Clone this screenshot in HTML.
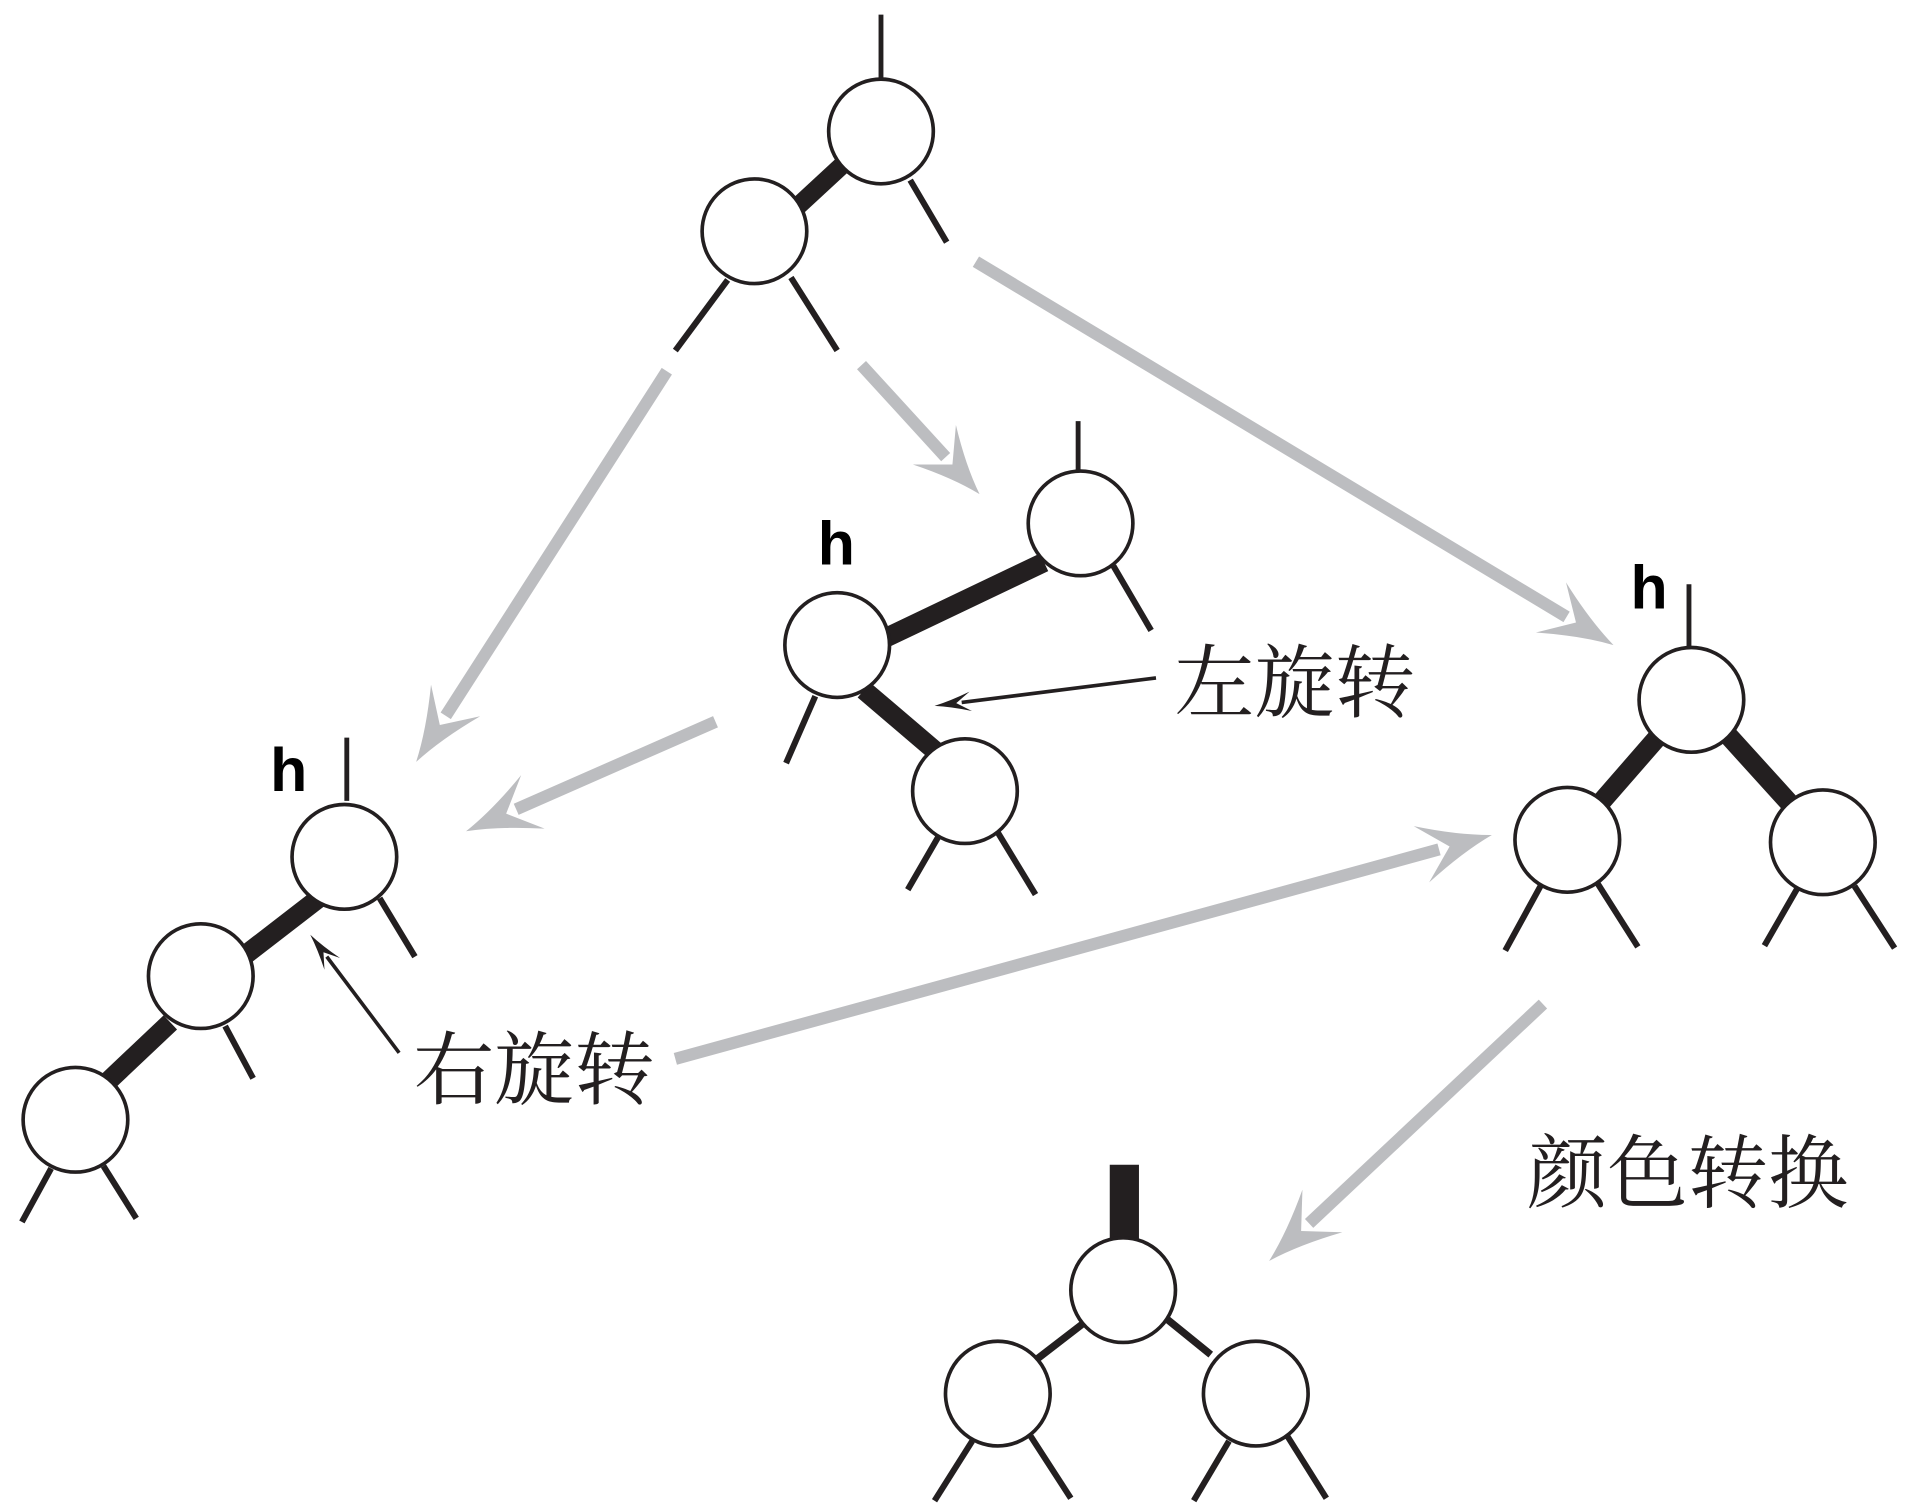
<!DOCTYPE html>
<html><head><meta charset="utf-8">
<style>
html,body{margin:0;padding:0;background:#fff;}
svg{display:block;}
text{font-family:"Liberation Serif","Noto Serif CJK SC",serif;}
.h{font-family:"Liberation Sans",sans-serif;font-weight:bold;}
</style></head>
<body>
<svg id="s" width="1908" height="1508" viewBox="0 0 1568 1239" preserveAspectRatio="none" xmlns="http://www.w3.org/2000/svg">
<g stroke="#231f20" fill="none" stroke-linecap="butt">
<line x1="724" y1="12" x2="724" y2="65" stroke-width="4"/>
<line x1="694" y1="134" x2="655" y2="170" stroke-width="15"/>
<line x1="748" y1="148" x2="778" y2="199" stroke-width="5"/>
<line x1="598" y1="230" x2="555" y2="288" stroke-width="5"/>
<line x1="650" y1="228" x2="688" y2="288" stroke-width="5"/>
<line x1="886" y1="346" x2="886" y2="386" stroke-width="4"/>
<line x1="858" y1="462" x2="728" y2="524" stroke-width="16"/>
<line x1="710" y1="567" x2="778" y2="625" stroke-width="16"/>
<line x1="915" y1="465" x2="946" y2="518" stroke-width="5"/>
<line x1="670" y1="572" x2="646" y2="627" stroke-width="5"/>
<line x1="772" y1="686" x2="746" y2="731" stroke-width="5"/>
<line x1="820" y1="684" x2="851" y2="735" stroke-width="5"/>
<line x1="285" y1="606" x2="285" y2="658" stroke-width="4"/>
<line x1="262" y1="738" x2="192" y2="792" stroke-width="16"/>
<line x1="140" y1="840" x2="85" y2="892" stroke-width="16"/>
<line x1="312" y1="738" x2="341" y2="786" stroke-width="5"/>
<line x1="185" y1="843" x2="208" y2="886" stroke-width="5"/>
<line x1="42" y1="960" x2="18" y2="1004" stroke-width="5"/>
<line x1="85" y1="958" x2="112" y2="1001" stroke-width="5"/>
<line x1="1388" y1="480" x2="1388" y2="532" stroke-width="4"/>
<line x1="1362" y1="606" x2="1308" y2="668" stroke-width="16"/>
<line x1="1420" y1="604" x2="1478" y2="668" stroke-width="16"/>
<line x1="1266" y1="728" x2="1237" y2="781" stroke-width="5"/>
<line x1="1313" y1="726" x2="1346" y2="778" stroke-width="5"/>
<line x1="1477" y1="730" x2="1450" y2="777" stroke-width="5"/>
<line x1="1524" y1="728" x2="1557" y2="779" stroke-width="5"/>
<line x1="924" y1="957" x2="924" y2="1020" stroke-width="24"/>
<line x1="892" y1="1086" x2="853" y2="1116" stroke-width="6"/>
<line x1="958" y1="1083" x2="995" y2="1113" stroke-width="6"/>
<line x1="799" y1="1184" x2="768" y2="1233" stroke-width="5"/>
<line x1="847" y1="1180" x2="880" y2="1231" stroke-width="5"/>
<line x1="1010" y1="1184" x2="981" y2="1233" stroke-width="5"/>
<line x1="1058" y1="1180" x2="1090" y2="1231" stroke-width="5"/>
</g>
<g stroke="#231f20" stroke-width="3" fill="#fff">
<circle cx="724" cy="108" r="43"/>
<circle cx="620" cy="190" r="43"/>
<circle cx="888" cy="430" r="43"/>
<circle cx="688" cy="530" r="43"/>
<circle cx="793" cy="650" r="43"/>
<circle cx="283" cy="704" r="43"/>
<circle cx="165" cy="802" r="43"/>
<circle cx="62" cy="920" r="43"/>
<circle cx="1390" cy="575" r="43"/>
<circle cx="1288" cy="690" r="43"/>
<circle cx="1498" cy="692" r="43"/>
<circle cx="923" cy="1060" r="43"/>
<circle cx="820" cy="1145" r="43"/>
<circle cx="1032" cy="1145" r="43"/>
</g>
<g id="arrows"></g>
<text class="h" x="672" y="464" font-size="50">h</text>
<text class="h" x="222" y="650" font-size="50">h</text>
<text class="h" x="1340" y="500" font-size="50">h</text>
<text x="965" y="584" font-size="66" fill="#231f20">左旋转</text>
<text x="340" y="902" font-size="66" fill="#231f20">右旋转</text>
<text x="1255" y="987" font-size="66" fill="#231f20">颜色转换</text>
</svg>
<script>
var g=document.getElementById('arrows'),NS='http://www.w3.org/2000/svg';
function arr(x1,y1,x2,y2,col,w,L,W){
 var dx=x2-x1,dy=y2-y1,d=Math.sqrt(dx*dx+dy*dy),ux=dx/d,uy=dy/d,nx=-uy,ny=ux;
 var bx=x2-ux*L*0.75,by=y2-uy*L*0.75;
 var l=document.createElementNS(NS,'line');
 l.setAttribute('x1',x1);l.setAttribute('y1',y1);l.setAttribute('x2',bx);l.setAttribute('y2',by);
 l.setAttribute('stroke',col);l.setAttribute('stroke-width',w);g.appendChild(l);
 var ax=x2-ux*L+nx*W,ay=y2-uy*L+ny*W,cx=x2-ux*L-nx*W,cy=y2-uy*L-ny*W;
 var mx=x2-ux*L*0.6,my=y2-uy*L*0.6;
 var q1x=x2-ux*L*0.45+nx*W*0.3,q1y=y2-uy*L*0.45+ny*W*0.3;
 var q2x=x2-ux*L*0.45-nx*W*0.3,q2y=y2-uy*L*0.45-ny*W*0.3;
 var p=document.createElementNS(NS,'path');
 p.setAttribute('d','M'+x2+','+y2+' Q'+q1x+','+q1y+' '+ax+','+ay+' L'+mx+','+my+' L'+cx+','+cy+' Q'+q2x+','+q2y+' '+x2+','+y2+'Z');
 p.setAttribute('fill',col);g.appendChild(p);
}
var G='#bcbdc0';
arr(548,305,342,626,G,10,60,24);
arr(708,300,805,406,G,10,55,24);
arr(802,215,1326,530,G,10,60,24);
arr(588,593,383,683,G,10,60,24);
arr(555,870,1226,686,G,10,60,24);
arr(1268,825,1043,1036,G,10,60,24);
arr(950,557,768,580,'#231f20',3,30,8);
arr(328,865,255,768,'#231f20',3,30,8);
</script>
</body></html>
